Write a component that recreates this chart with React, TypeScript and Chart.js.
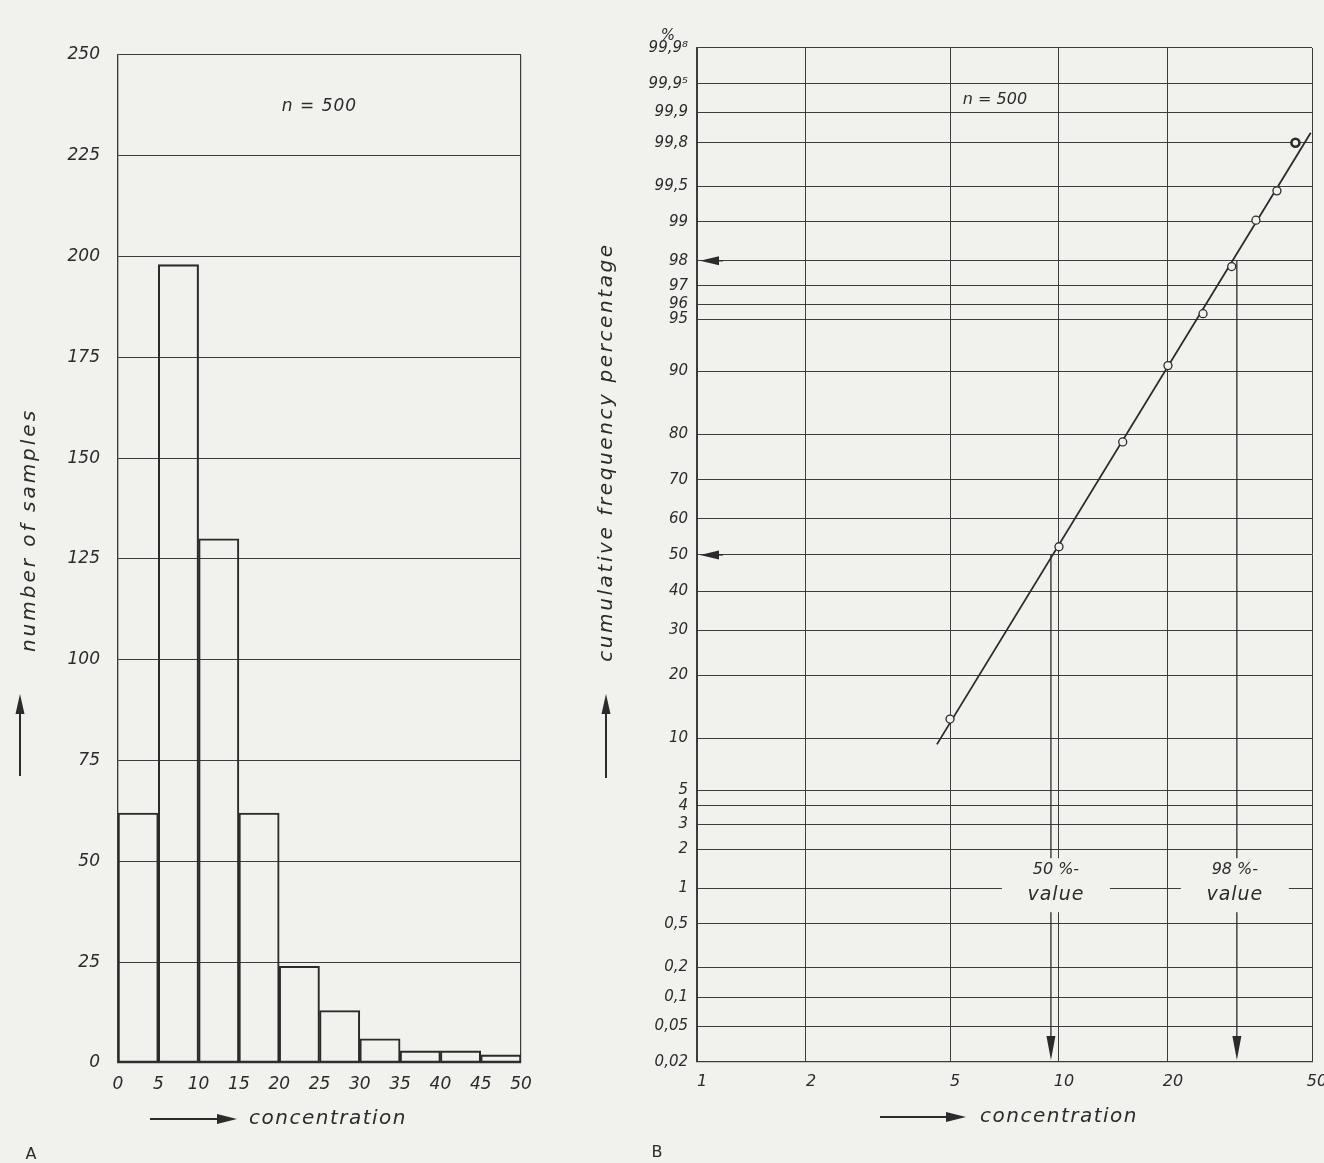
import React, { useEffect, useRef } from "react";
import { Chart, registerables } from "chart.js";
Chart.register(...registerables);

// ---------- data: histogram (A) ----------
const histBinStarts = [0, 5, 10, 15, 20, 25, 30, 35, 40, 45];
const histBinWidth = 5;
const histCounts = [62, 198, 130, 62, 24, 13, 6, 3, 3, 2];
const histXTicks = [0, 5, 10, 15, 20, 25, 30, 35, 40, 45, 50];
const histYMax = 250;
const histYStep = 25;

// ---------- data: probability plot (B) ----------
const cumConc = [5, 10, 15, 20, 25, 30, 35, 40, 45];
const cumPct = [12.6, 52.3, 78.5, 90.7, 95.4, 97.8, 99.03, 99.45, 99.8];
const fitConc = [4.6, 49.6];
const fitPct = [9.3, 99.84];
const probTickPct = [0.02, 0.05, 0.1, 0.2, 0.5, 1, 2, 3, 4, 5, 10, 20, 30, 40, 50, 60, 70, 80, 90, 95, 96, 97, 98, 99, 99.5, 99.8, 99.9, 99.95, 99.98];
const probTickLabels = ["0,02", "0,05", "0,1", "0,2", "0,5", "1", "2", "3", "4", "5", "10", "20", "30", "40", "50", "60", "70", "80", "90", "95", "96", "97", "98", "99", "99,5", "99,8", "99,9", "99,9\u2075", "99,9\u2078"];
const logXTicks = [1, 2, 5, 10, 20, 50];
const logXLabels = ["1", "2", "5", "10", "20", "50"];
const markedPct = [50, 98];
const markedConc = [9.5, 31];
const markedLabels = [["50 %-", "value"], ["98 %-", "value"]];
const markerLevelPct = 1;

const BG = "#f1f1ee";
const INK = "#2b2b2b";
const GRID = "#3c3c3c";
const FONT = "'DejaVu Sans', 'Liberation Sans', sans-serif";

function probit(p: number): number {
  const a = [-3.969683028665376e1, 2.209460984245205e2, -2.759285104469687e2, 1.38357751867269e2, -3.066479806614716e1, 2.506628277459239];
  const b = [-5.447609879822406e1, 1.615858368580409e2, -1.556989798598866e2, 6.680131188771972e1, -1.328068155288572e1];
  const c = [-7.784894002430293e-3, -3.223964580411365e-1, -2.400758277161838, -2.549732539343734, 4.374664141464968, 2.938163982698783];
  const d = [7.784695709041462e-3, 3.224671290700398e-1, 2.445134137142996, 3.754408661907416];
  const pl = 0.02425;
  if (p < pl) {
    const q = Math.sqrt(-2 * Math.log(p));
    return (((((c[0] * q + c[1]) * q + c[2]) * q + c[3]) * q + c[4]) * q + c[5]) / ((((d[0] * q + d[1]) * q + d[2]) * q + d[3]) * q + 1);
  }
  if (p <= 1 - pl) {
    const q = p - 0.5, r = q * q;
    return ((((((a[0] * r + a[1]) * r + a[2]) * r + a[3]) * r + a[4]) * r + a[5]) * q) / (((((b[0] * r + b[1]) * r + b[2]) * r + b[3]) * r + b[4]) * r + 1);
  }
  const q = Math.sqrt(-2 * Math.log(1 - p));
  return -(((((c[0] * q + c[1]) * q + c[2]) * q + c[3]) * q + c[4]) * q + c[5]) / ((((d[0] * q + d[1]) * q + d[2]) * q + d[3]) * q + 1);
}
const z = (pct: number) => probit(pct / 100);

function text(ctx: CanvasRenderingContext2D, s: string, x: number, y: number, font: string, opts: any = {}) {
  ctx.save();
  ctx.font = font;
  ctx.fillStyle = INK;
  ctx.textAlign = opts.align || "center";
  ctx.textBaseline = "middle";
  (ctx as any).letterSpacing = opts.ls || "0px";
  if (opts.rot) {
    ctx.translate(x, y);
    ctx.rotate(opts.rot);
    ctx.fillText(s, 0, 0);
  } else ctx.fillText(s, x, y);
  ctx.restore();
}

function arrow(ctx: CanvasRenderingContext2D, x1: number, y1: number, x2: number, y2: number, head: number, half: number, lw: number) {
  const ang = Math.atan2(y2 - y1, x2 - x1);
  const bx = x2 - head * Math.cos(ang), by = y2 - head * Math.sin(ang);
  ctx.save();
  ctx.strokeStyle = INK;
  ctx.fillStyle = INK;
  ctx.lineWidth = lw;
  ctx.beginPath();
  ctx.moveTo(x1, y1);
  ctx.lineTo(bx, by);
  ctx.stroke();
  ctx.beginPath();
  ctx.moveTo(x2, y2);
  ctx.lineTo(bx + half * Math.sin(ang), by - half * Math.cos(ang));
  ctx.lineTo(bx - half * Math.sin(ang), by + half * Math.cos(ang));
  ctx.closePath();
  ctx.fill();
  ctx.restore();
}

export default function App() {
  const leftRef = useRef<HTMLCanvasElement>(null);
  const rightRef = useRef<HTMLCanvasElement>(null);

  useEffect(() => {
    document.body.style.margin = "0";
    document.body.style.background = BG;

    const italic = (s: number) => ({ family: FONT, size: s, style: "italic" as const });

    const leftPlugin = {
      id: "leftDeco",
      afterDraw(chart: any) {
        const ctx = chart.ctx as CanvasRenderingContext2D;
        const ca = chart.chartArea;
        text(ctx, "n = 500", (ca.left + ca.right) / 2, 107, `italic 17px ${FONT}`, { ls: "1px" });
        text(ctx, "number of samples", 30, 530, `italic 20px ${FONT}`, { rot: -Math.PI / 2, ls: "3px" });
        arrow(ctx, 20, 776, 20, 694, 20, 4.5, 2);
        arrow(ctx, 150, 1119, 237, 1119, 20, 5, 2);
        text(ctx, "concentration", 249, 1119, `italic 20px ${FONT}`, { align: "left", ls: "1.5px" });
        text(ctx, "A", 31, 1155, `16px ${FONT}`);
      },
    };

    const left = new Chart(leftRef.current!, {
      type: "bar",
      data: {
        datasets: [
          {
            data: histBinStarts.map((s, i) => ({ x: s + histBinWidth / 2, y: histCounts[i] })),
            backgroundColor: "rgba(0,0,0,0)",
            borderColor: INK,
            borderWidth: 1.4,
            borderSkipped: false,
            barPercentage: 1,
            categoryPercentage: 1,
          } as any,
        ],
      },
      options: {
        responsive: false,
        animation: false,
        events: [],
        layout: { padding: { left: 0, right: 59, top: 55, bottom: 0 } },
        plugins: { legend: { display: false }, tooltip: { enabled: false } },
        scales: {
          x: {
            type: "linear",
            min: 0,
            max: 50,
            offset: false,
            afterBuildTicks: (s: any) => { s.ticks = histXTicks.map((v) => ({ value: v })); },
            afterFit: (s: any) => { s.height = 100; },
            ticks: { font: italic(17), color: INK, padding: 11, autoSkip: false, maxRotation: 0, callback: (v: any) => String(v) },
            grid: { offset: false, color: (c: any) => (c.tick && (c.tick.value === 0 || c.tick.value === 50) ? GRID : "rgba(0,0,0,0)"), lineWidth: 1.2, drawTicks: false },
            border: { display: true, color: GRID, width: 1.2 },
          },
          y: {
            type: "linear",
            min: 0,
            max: histYMax,
            afterFit: (s: any) => { s.width = 118; },
            ticks: { stepSize: histYStep, font: italic(17), color: INK, padding: 18 },
            grid: { color: GRID, lineWidth: 1.1, drawTicks: false },
            border: { display: true, color: GRID, width: 1.2 },
          },
        },
      },
      plugins: [leftPlugin],
    } as any);

    const rightPlugin = {
      id: "rightDeco",
      beforeDatasetsDraw(chart: any) {
        const ctx = chart.ctx as CanvasRenderingContext2D;
        const ca = chart.chartArea;
        const xs = chart.scales.x, ys = chart.scales.y;
        const yLevel = ys.getPixelForValue(z(markerLevelPct));
        markedPct.forEach((p, i) => {
          const yp = ys.getPixelForValue(z(p));
          const xp = xs.getPixelForValue(markedConc[i]);
          arrow(ctx, ca.left + 26, yp, ca.left + 3, yp, 19, 4.5, 1.2);
          arrow(ctx, xp, yp, xp, ca.bottom - 2, 24, 4.5, 1.3);
          const cx = i === 0 ? xp + 5 : xp - 2;
          ctx.save();
          ctx.fillStyle = BG;
          ctx.fillRect(cx - 54, yLevel - 30, 108, 54);
          ctx.restore();
          text(ctx, markedLabels[i][0], cx, yLevel - 18, `italic 16px ${FONT}`);
          text(ctx, markedLabels[i][1], cx, yLevel + 7, `italic 19px ${FONT}`, { ls: "1px" });
        });
      },
      afterDraw(chart: any) {
        const ctx = chart.ctx as CanvasRenderingContext2D;
        text(ctx, "n = 500", 415, 100, `italic 16px ${FONT}`);
        text(ctx, "%", 88, 36, `italic 15px ${FONT}`);
        text(ctx, "cumulative frequency percentage", 27, 452, `italic 20px ${FONT}`, { rot: -Math.PI / 2, ls: "2.6px" });
        arrow(ctx, 26, 778, 26, 694, 20, 4.5, 2);
        arrow(ctx, 300, 1117, 386, 1117, 20, 5, 2);
        text(ctx, "concentration", 400, 1117, `italic 20px ${FONT}`, { align: "left", ls: "1.5px" });
        text(ctx, "B", 77, 1153, `16px ${FONT}`);
      },
    };

    const lastIdx = cumConc.length - 1;
    const right = new Chart(rightRef.current!, {
      type: "scatter",
      data: {
        datasets: [
          {
            data: cumConc.map((c, i) => ({ x: c, y: z(cumPct[i]) })),
            pointRadius: 4,
            pointBorderWidth: (c: any) => (c.dataIndex === lastIdx ? 2.6 : 1.3),
            pointBackgroundColor: BG,
            pointBorderColor: INK,
            showLine: false,
          },
          {
            data: fitConc.map((c, i) => ({ x: c, y: z(fitPct[i]) })),
            showLine: true,
            borderColor: INK,
            borderWidth: 1.8,
            pointRadius: 0,
          },
        ],
      },
      options: {
        responsive: false,
        animation: false,
        events: [],
        layout: { padding: { left: 0, right: 28, top: 48, bottom: 0 } },
        plugins: { legend: { display: false }, tooltip: { enabled: false } },
        scales: {
          x: {
            type: "logarithmic",
            min: 1,
            max: 50,
            afterBuildTicks: (s: any) => { s.ticks = logXTicks.map((v) => ({ value: v })); },
            afterFit: (s: any) => { s.height = 101; },
            ticks: { font: italic(16), color: INK, padding: 10, labelOffset: 5, autoSkip: false, maxRotation: 0, callback: (_v: any, i: number) => logXLabels[i] },
            grid: { color: GRID, lineWidth: 1, drawTicks: false },
            border: { display: true, color: GRID, width: 1.2 },
          },
          y: {
            type: "linear",
            min: z(probTickPct[0]),
            max: z(probTickPct[probTickPct.length - 1]),
            afterBuildTicks: (s: any) => { s.ticks = probTickPct.map((p) => ({ value: z(p) })); },
            afterFit: (s: any) => { s.width = 117; },
            ticks: { font: italic(15), color: INK, padding: 9, autoSkip: false, callback: (_v: any, i: number) => probTickLabels[i] },
            grid: { color: GRID, lineWidth: 1.1, drawTicks: false },
            border: { display: true, color: GRID, width: 1.2 },
          },
        },
      },
      plugins: [rightPlugin],
    } as any);

    return () => {
      left.destroy();
      right.destroy();
    };
  }, []);

  return (
    <div style={{ position: "relative", width: 1324, height: 1163, background: BG, overflow: "hidden" }}>
      <canvas ref={leftRef} width={580} height={1163} style={{ position: "absolute", left: 0, top: 0, width: 580, height: 1163 }} />
      <canvas ref={rightRef} width={760} height={1163} style={{ position: "absolute", left: 580, top: 0, width: 760, height: 1163 }} />
    </div>
  );
}
